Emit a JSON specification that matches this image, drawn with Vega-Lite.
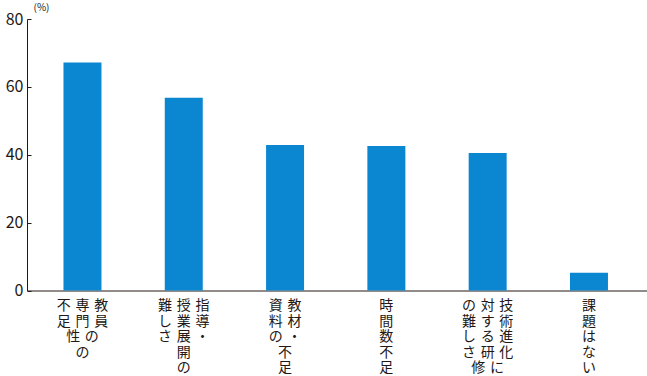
{
  "$schema": "https://vega.github.io/schema/vega-lite/v6.json",
  "width": 620,
  "height": 271.5,
  "autosize": {"type": "none"},
  "padding": {"left": 27, "top": 19, "right": 0, "bottom": 85},
  "background": "#ffffff",
  "config": {
    "view": {"stroke": null},
    "font": "Noto Sans CJK JP",
    "axis": {"domainColor": "#231815", "tickColor": "#231815", "labelColor": "#231815", "titleColor": "#231815", "grid": false, "domainWidth": 1}
  },
  "data": {
    "values": [
      {"item": "教員の専門性の不足", "pct": 67.2},
      {"item": "指導・授業展開の難しさ", "pct": 56.8},
      {"item": "教材・資料の不足", "pct": 42.9},
      {"item": "時間数不足", "pct": 42.6},
      {"item": "技術進化に対する研修の難しさ", "pct": 40.5},
      {"item": "課題はない", "pct": 5.2}
    ]
  },
  "mark": {"type": "bar", "color": "#0a87d0"},
  "encoding": {
    "x": {
      "field": "item",
      "type": "nominal",
      "sort": null,
      "scale": {"paddingInner": 0.625, "paddingOuter": 0.3727, "align": 0.483},
      "axis": {
        "title": null,
        "ticks": false,
        "labelAngle": 0,
        "labelAlign": "center",
        "labelBaseline": "top",
        "labelFontSize": 14,
        "labelLineHeight": 15.6,
        "labelPadding": 8,
        "labelExpr": "({'教員の専門性の不足': ['不\u2004専\u2004教', '足\u2004門\u2004員', '　\u2004性\u2004の', '　\u2004の\u2004　'], '指導・授業展開の難しさ': ['難\u2004授\u2004指', 'し\u2004業\u2004導', 'さ\u2004展\u2004・', '　\u2004開\u2004　', '　\u2004の\u2004　'], '教材・資料の不足': ['資\u2004教', '料\u2004材', 'の\u2004・', '不\u2004　', '足\u2004　'], '時間数不足': ['時', '間', '数', '不', '足'], '技術進化に対する研修の難しさ': ['の\u2004対\u2004技', '難\u2004す\u2004術', 'し\u2004る\u2004進', 'さ\u2004研\u2004化', '　\u2004修\u2004に'], '課題はない': ['課', '題', 'は', 'な', 'い']})[datum.value]"
      }
    },
    "y": {
      "field": "pct",
      "type": "quantitative",
      "scale": {"domain": [0, 80], "nice": false},
      "axis": {
        "values": [0, 20, 40, 60, 80],
        "tickSize": -4,
        "labelFontSize": 16,
        "labelPadding": 8,
        "title": "(%)",
        "titleAngle": 0,
        "titleFontSize": 10,
        "titleFontWeight": "normal",
        "titleAlign": "left",
        "titleBaseline": "middle",
        "titleX": 6,
        "titleY": -12
      }
    }
  }
}
